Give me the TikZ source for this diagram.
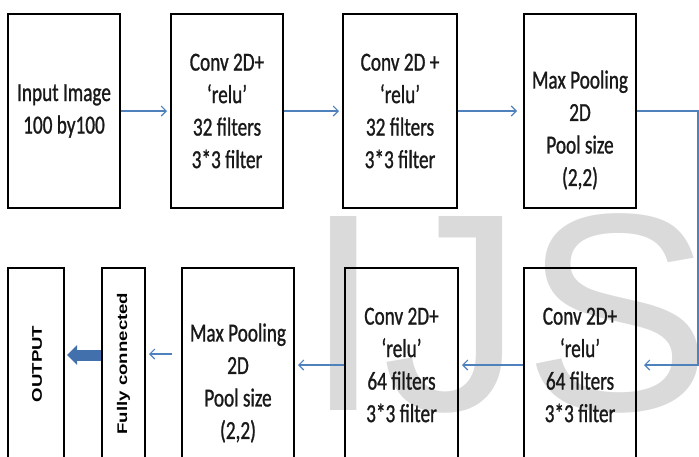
\documentclass[tikz,border=0pt]{standalone}
\usepackage{fontspec}
\setmainfont{Carlito}[FakeStretch=0.74,FakeBold=1]
\newfontfamily\lblfont{Liberation Sans}[FakeStretch=1.33]
\newfontfamily\wmfont{Liberation Sans}
\usetikzlibrary{arrows.meta}
\definecolor{arrowblue}{RGB}{79,129,189}
\definecolor{thickblue}{RGB}{66,112,172}
\definecolor{wmgray}{RGB}{218,218,218}
\definecolor{txt}{RGB}{25,25,25}
\begin{document}
\begin{tikzpicture}[x=1pt,y=-1pt,
  box/.style={draw=black, line width=2pt, minimum height=194pt, inner sep=0pt, align=center, text=txt, font=\fontsize{26}{32.5}\selectfont},
  lbl/.style={align=center, text=txt, font=\fontsize{26}{32.5}\selectfont, inner sep=0pt},
  link/.style={draw=arrowblue, line width=1.1pt, -{Straight Barb[length=5pt,width=10pt]}, shorten >=3pt},
  vlbl/.style={rotate=90, font=\lblfont\bfseries\fontsize{14}{14}\selectfont, text=black, inner sep=0pt}]
\useasboundingbox (0,0) rectangle (699,456);
\clip (0,0) rectangle (699,456);
% watermark
\node[anchor=base west, inner sep=0pt, text=wmgray, font=\wmfont\fontsize{282}{282}\selectfont] (wm) at (304,410) {IJS};
% top row
\node[box, minimum width=112pt] (in) at (64,111) {Input Image\\100 by100};
\node[box, minimum width=112pt] (c1) at (227,111) {Conv 2D+\\‘relu’\\32 filters\\3*3 filter};
\node[box, minimum width=114pt] (c2) at (400,111) {Conv 2D +\\‘relu’\\32 filters\\3*3 filter};
\node[box, minimum width=112pt] (mp1) at (580,111) {};
\node[lbl] (mp1t) at (580,130) {Max Pooling\\2D\\Pool size\\(2,2)};
% bottom row
\node[box, minimum width=112pt] (c4) at (580,365) {Conv 2D+\\‘relu’\\64 filters\\3*3 filter};
\node[box, minimum width=113pt] (c3) at (401.5,365) {Conv 2D+\\‘relu’\\64 filters\\3*3 filter};
\node[box, minimum width=112pt] (mp2) at (238,365) {};
\node[lbl] (mp2t) at (238,383) {Max Pooling\\2D\\Pool size\\(2,2)};
\node[box, minimum width=43pt] (fc) at (123.5,365) {};
\node[vlbl] (fct) at (123.5,363.5) {Fully connected};
\node[box, minimum width=56pt] (out) at (36,365) {};
\node[vlbl] (outt) at (37,364) {OUTPUT};
% connectors
\draw[link] (in.east) -- (c1.west);
\draw[link] (c1.east) -- (c2.west);
\draw[link, shorten >=6pt] (c2.east) -- (mp1.west);
\coordinate (turn) at (698,240);
\draw[link, shorten >=7pt] (mp1.east) -| (turn) |- (c4.east);
\draw[link] (c4.west) -- (c3.east);
\draw[link] (c3.west) -- (mp2.east);
\coordinate (fcy) at (0,354);
\draw[link, shorten <=9pt] (mp2.west |- fcy) -- (fc.east |- fcy);
\coordinate (thy) at (0,355);
\coordinate (outtip) at ([xshift=2pt]out.east);
\draw[thickblue, line width=11pt, -{Triangle[length=10pt,width=19pt]}] (fc.west |- thy) -- (outtip |- thy);
\end{tikzpicture}
\end{document}
